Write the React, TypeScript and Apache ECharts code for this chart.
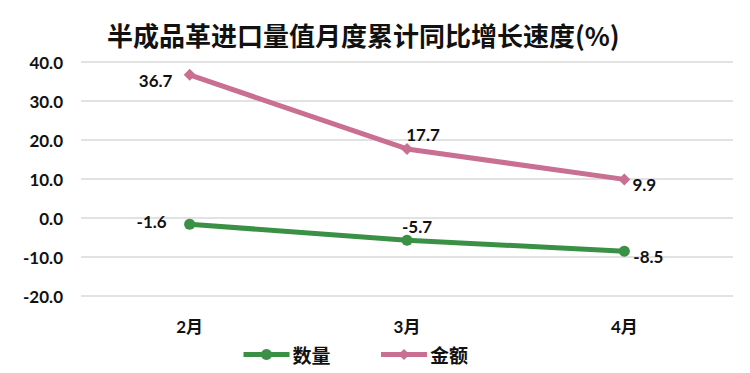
import React, { useEffect, useRef } from "react";
import * as echarts from "echarts";

const categories = ["2月", "3月", "4月"];
const quantity = [-1.6, -5.7, -8.5];
const amount = [36.7, 17.7, 9.9];
const seriesNames = ["数量", "金额"];
const titleText = "半成品革进口量值月度累计同比增长速度(%)";

const FONT = "Lato, 'Noto Sans CJK SC', sans-serif";
const GREEN = "#3a9146";
const PINK = "#c96f92";

const qtyOffsets = [[-38, -3], [10, -14], [24, 5]];
const amtOffsets = [[-34, 6], [16, -14], [20, 5]];

export default function App() {
  const ref = useRef<HTMLDivElement>(null);
  useEffect(() => {
    if (!ref.current) return;
    const chart = echarts.init(ref.current, null, { renderer: "svg" });
    const labelStyle = {
      show: true,
      position: "inside",
      fontFamily: FONT,
      fontSize: 17,
      fontWeight: "bold",
      color: "#111",
      formatter: (p: any) => Number(p.value).toFixed(1),
    };
    chart.setOption({
      animation: false,
      backgroundColor: "#ffffff",
      title: {
        text: titleText,
        left: 102,
        top: 16,
        textStyle: {
          fontFamily: "'Noto Sans CJK SC', sans-serif",
          fontSize: 26,
          fontWeight: "bold",
          color: "#111",
        },
      },
      legend: {
        top: 340,
        left: 236,
        itemWidth: 46,
        itemHeight: 14,
        itemGap: 48,
        textStyle: {
          fontFamily: "'Noto Sans CJK SC', sans-serif",
          fontSize: 19,
          fontWeight: "bold",
          color: "#111",
          padding: [0, 0, 0, -2],
        },
        data: [
          { name: seriesNames[0], lineStyle: { width: 5, color: GREEN } },
          { name: seriesNames[1], lineStyle: { width: 5, color: PINK } },
        ],
      },
      grid: { left: 81, right: 17, top: 62, bottom: 77, containLabel: false },
      xAxis: {
        type: "category",
        data: categories,
        boundaryGap: true,
        axisLine: { show: false },
        axisTick: { show: false },
        axisLabel: {
          margin: 22,
          fontFamily: FONT,
          fontSize: 17,
          fontWeight: "bold",
          color: "#111",
        },
      },
      yAxis: {
        type: "value",
        min: -20,
        max: 40,
        interval: 10,
        axisLine: { show: false },
        axisTick: { show: false },
        splitLine: { lineStyle: { color: "#d9d9d9", width: 1.5 } },
        axisLabel: {
          margin: 18,
          fontFamily: FONT,
          fontSize: 17,
          fontWeight: "bold",
          color: "#111",
          formatter: (v: number) => v.toFixed(1),
        },
      },
      series: [
        {
          name: seriesNames[0],
          type: "line",
          data: quantity.map((v, i) => ({
            value: v,
            label: { offset: qtyOffsets[i] },
          })),
          symbol: "circle",
          symbolSize: 11,
          lineStyle: { color: GREEN, width: 5 },
          itemStyle: { color: GREEN },
          label: labelStyle,
        },
        {
          name: seriesNames[1],
          type: "line",
          data: amount.map((v, i) => ({
            value: v,
            label: { offset: amtOffsets[i] },
          })),
          symbol: "diamond",
          symbolSize: 12,
          lineStyle: { color: PINK, width: 5 },
          itemStyle: { color: PINK },
          label: labelStyle,
        },
      ],
    });
    return () => chart.dispose();
  }, []);
  return <div ref={ref} style={{ width: 750, height: 373, margin: -8 }} />;
}
